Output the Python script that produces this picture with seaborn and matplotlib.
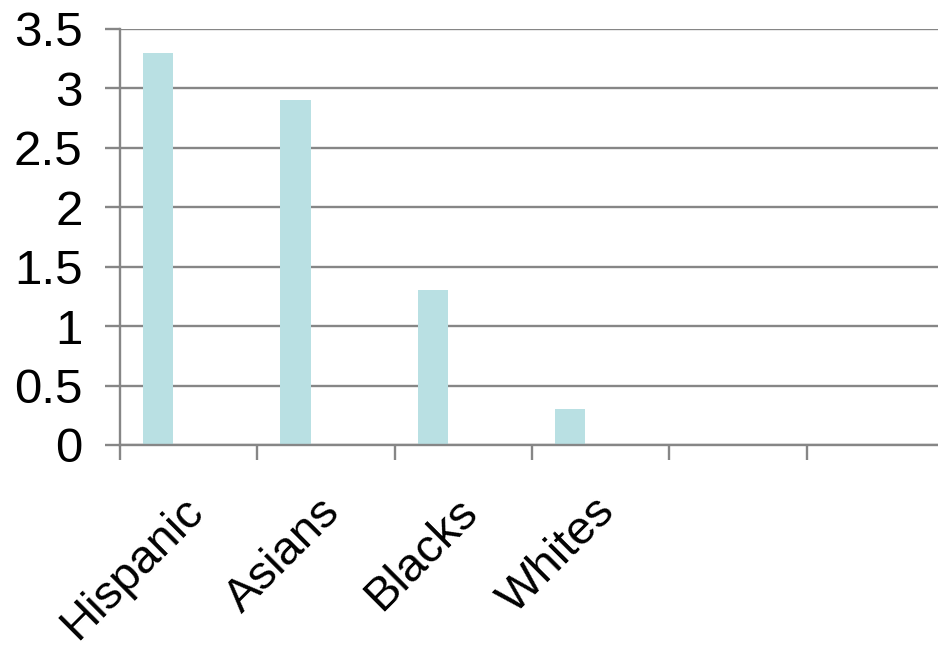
import matplotlib
matplotlib.use("Agg")
import matplotlib.pyplot as plt
import matplotlib.transforms as mtransforms
import numpy as np
import pandas as pd
import seaborn as sns

# Categories on the x axis (the last two slots are empty)
groups = ["Hispanic", "Asians", "Blacks", "Whites", "", " "]
values = [3.3, 2.9, 1.3, 0.3]
series = ["Series1", "Series2", "Series3"]
yticks = [0, 0.5, 1, 1.5, 2, 2.5, 3, 3.5]
ytick_labels = ["0", "0.5", "1", "1.5", "2", "2.5", "3", "3.5"]

df = pd.DataFrame({
    "group": groups[:len(values)],
    "value": values,
    "series": [series[0]] * len(values),
})

sns.set_style("white")
plt.rcParams["font.family"] = ["Liberation Sans", "DejaVu Sans"]
plt.rcParams["text.color"] = "black"
plt.rcParams["xtick.labelcolor"] = "black"
plt.rcParams["ytick.labelcolor"] = "black"

grid_c = "#868686"
bar_c = "#B9E0E3"

fig = plt.figure(figsize=(9.38, 6.48), dpi=100)
ax = fig.add_axes([120 / 938, 203 / 648, 824 / 938, 416 / 648])

sns.barplot(data=df, x="group", y="value", hue="series",
            order=groups, hue_order=series, dodge=True,
            palette=[bar_c, bar_c, bar_c], width=0.667,
            legend=False, ax=ax, linewidth=0, saturation=1)

ax.set_xlim(-0.5, len(groups) - 0.5)
ax.set_ylim(0, 3.5)
ax.set_xlabel("")
ax.set_ylabel("")

# horizontal gridlines
ax.set_yticks(yticks)
ax.set_yticklabels(ytick_labels, fontsize=35.5, color="black")
ax.yaxis.grid(True, color=grid_c, linewidth=1.7)
ax.set_axisbelow(True)
ax.tick_params(axis="y", length=11, width=1.7, color=grid_c, pad=16,
               direction="out", left=True)

# category boundary tick marks and centred labels
ax.set_xticks(np.arange(-0.5, len(groups), 1.0))
ax.set_xticklabels([])
ax.tick_params(axis="x", which="major", length=11, width=1.7,
               color=grid_c, direction="out", bottom=True)
ax.set_xticks(np.arange(len(groups)), minor=True)
ax.set_xticklabels(groups, minor=True, fontsize=34, rotation=45,
                   ha="right", va="top", rotation_mode="anchor", color="black")
ax.tick_params(axis="x", which="minor", length=0, pad=32)
offset = mtransforms.ScaledTranslation(-0.08, 0, fig.dpi_scale_trans)
for lbl in ax.get_xticklabels(minor=True):
    lbl.set_transform(lbl.get_transform() + offset)

for side in ["top", "right"]:
    ax.spines[side].set_visible(False)
ax.spines["left"].set_color(grid_c)
ax.spines["left"].set_linewidth(1.7)
ax.spines["bottom"].set_color(grid_c)
ax.spines["bottom"].set_linewidth(1.7)

fig.savefig("out.png", dpi=100, facecolor="white")
